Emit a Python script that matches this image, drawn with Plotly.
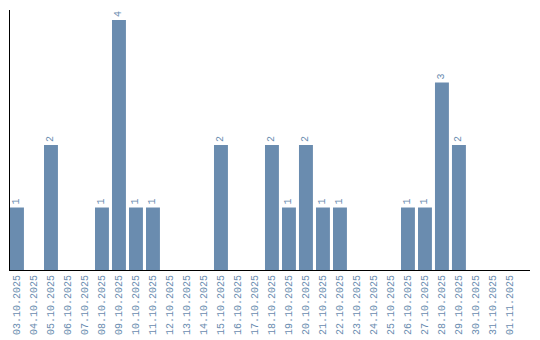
import plotly.graph_objects as go

dates = ["03.10.2025", "04.10.2025", "05.10.2025", "06.10.2025", "07.10.2025",
         "08.10.2025", "09.10.2025", "10.10.2025", "11.10.2025", "12.10.2025",
         "13.10.2025", "14.10.2025", "15.10.2025", "16.10.2025", "17.10.2025",
         "18.10.2025", "19.10.2025", "20.10.2025", "21.10.2025", "22.10.2025",
         "23.10.2025", "24.10.2025", "25.10.2025", "26.10.2025", "27.10.2025",
         "28.10.2025", "29.10.2025", "30.10.2025", "31.10.2025", "01.11.2025"]
counts = [1, 0, 2, 0, 0, 1, 4, 1, 1, 0, 0, 0, 2, 0, 0, 2, 1, 2, 1, 1,
          0, 0, 0, 1, 1, 3, 2, 0, 0, 0]

color = "#6a8caf"
labels = [str(v) if v > 0 else "" for v in counts]
mono = "Liberation Mono"

fig = go.Figure(go.Bar(
    x=dates, y=counts, marker_color=color, marker_line_width=0,
    width=0.82, text=labels, textposition="outside", textangle=-90,
    textfont=dict(family=mono, size=10, color=color),
    cliponaxis=False, hoverinfo="skip",
))
fig.update_layout(
    width=540, height=340, margin=dict(l=10, r=10, t=10, b=70, autoexpand=False),
    paper_bgcolor="white", plot_bgcolor="white", showlegend=False,
    xaxis=dict(type="category", range=[-0.41, 30.18], showgrid=False, automargin=False,
               showline=True, linecolor="black", linewidth=1, ticks="",
               tickangle=-90, tickfont=dict(family=mono, size=10, color=color)),
    yaxis=dict(range=[0, 4.16], showgrid=False, zeroline=False, showline=True,
               automargin=False, linecolor="black", linewidth=1,
               showticklabels=False, ticks=""),
)
fig.write_html("out.html")
